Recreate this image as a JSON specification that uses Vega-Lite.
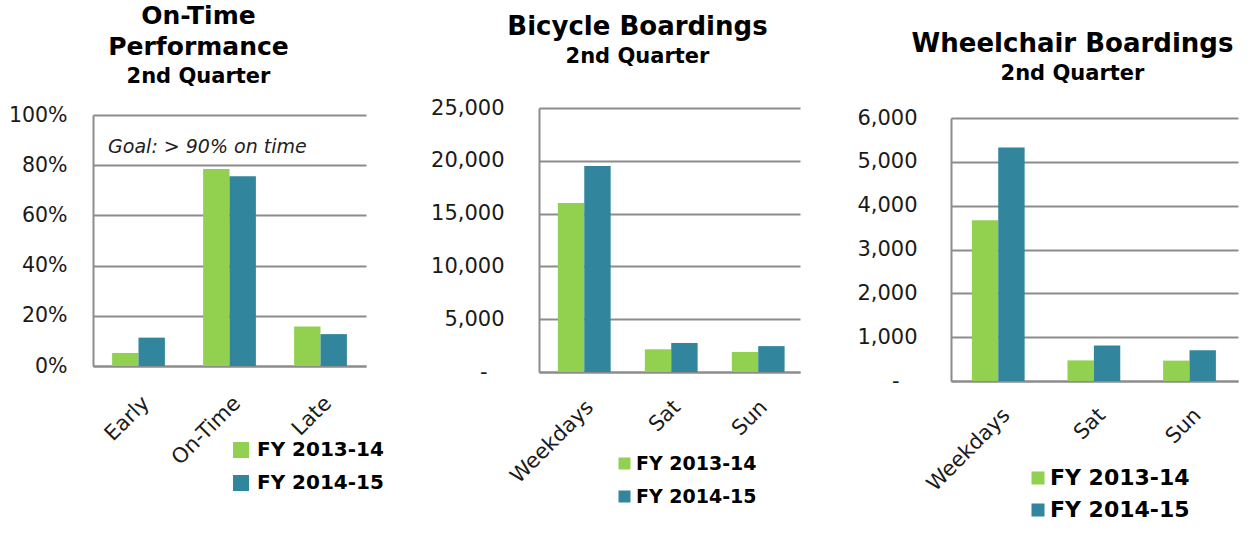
{
  "$schema": "https://vega.github.io/schema/vega-lite/v6.json",
  "padding": {"left": 8, "top": 4, "right": 5, "bottom": 0},
  "background": "white",
  "resolve": {"scale": {"color": "independent"}, "legend": {"color": "independent"}},
  "config": {
    "view": {"stroke": null},
    "font": "DejaVu Sans",
    "title": {"font": "DejaVu Sans", "fontWeight": "bold", "fontSize": 26, "color": "#000000", "lineHeight": 31, "subtitleFont": "DejaVu Sans", "subtitleFontWeight": "bold", "subtitleFontSize": 21, "subtitleColor": "#000000", "subtitlePadding": 6},
    "axis": {"labelFont": "DejaVu Sans", "labelFontSize": 21, "labelColor": "#1a1a1a", "domainColor": "#8c8c8c", "domainWidth": 2, "gridColor": "#8c8c8c", "gridWidth": 2, "ticks": false, "title": null},
    "axisX": {"labelAngle": -45, "labelPadding": 26, "grid": false},
    "axisY": {"domain": true, "grid": true},
    "legend": {"orient": "none", "title": null, "symbolType": "square", "labelFont": "DejaVu Sans", "labelFontWeight": "bold", "labelColor": "#000000", "padding": 0, "symbolStrokeWidth": 0, "symbolOpacity": 1}
  },
  "datasets": {
    "otp": [
      {"category": "Early", "year": "FY 2013-14", "value": 0.052},
      {"category": "Early", "year": "FY 2014-15", "value": 0.113},
      {"category": "On-Time", "year": "FY 2013-14", "value": 0.785},
      {"category": "On-Time", "year": "FY 2014-15", "value": 0.756},
      {"category": "Late", "year": "FY 2013-14", "value": 0.157},
      {"category": "Late", "year": "FY 2014-15", "value": 0.127}
    ],
    "bike": [
      {"category": "Weekdays", "year": "FY 2013-14", "value": 16000},
      {"category": "Weekdays", "year": "FY 2014-15", "value": 19500},
      {"category": "Sat", "year": "FY 2013-14", "value": 2150},
      {"category": "Sat", "year": "FY 2014-15", "value": 2750},
      {"category": "Sun", "year": "FY 2013-14", "value": 1900},
      {"category": "Sun", "year": "FY 2014-15", "value": 2450}
    ],
    "wheel": [
      {"category": "Weekdays", "year": "FY 2013-14", "value": 3670},
      {"category": "Weekdays", "year": "FY 2014-15", "value": 5325},
      {"category": "Sat", "year": "FY 2013-14", "value": 470},
      {"category": "Sat", "year": "FY 2014-15", "value": 810},
      {"category": "Sun", "year": "FY 2013-14", "value": 465},
      {"category": "Sun", "year": "FY 2014-15", "value": 700}
    ]
  },
  "spacing": 46,
  "hconcat": [
    {
      "width": 273,
      "height": 252,
      "title": {"text": ["On-Time", "Performance"], "fontSize": 25, "subtitle": "2nd Quarter", "dx": -31, "offset": 18},
      "layer": [
        {
          "data": {"name": "otp"},
          "mark": {"type": "bar"},
          "encoding": {
            "x": {"field": "category", "type": "nominal", "sort": ["Early", "On-Time", "Late"], "scale": {"paddingInner": 0.42, "paddingOuter": 0.21}, "axis": {"labelPadding": 26}},
            "xOffset": {"field": "year", "type": "nominal"},
            "y": {"field": "value", "type": "quantitative", "scale": {"domain": [0, 1], "range": [252, 1]}, "axis": {"values": [0, 0.2, 0.4, 0.6, 0.8, 1], "format": ".0%", "labelPadding": 26, "labelFontSize": 20.5}},
            "color": {"field": "year", "type": "nominal", "scale": {"domain": ["FY 2013-14", "FY 2014-15"], "range": ["#92D050", "#31859C"]}, "legend": {"legendX": 138, "legendY": 326, "symbolSize": 256, "labelFontSize": 20, "labelOffset": 6, "rowPadding": 13}}
          }
        },
        {
          "data": {"values": [{"note": "Goal: > 90% on time"}]},
          "mark": {"type": "text", "align": "left", "baseline": "middle", "dx": -4, "fontStyle": "italic", "fontSize": 19, "font": "DejaVu Sans", "color": "#222222"},
          "encoding": {
            "text": {"field": "note"},
            "x": {"datum": "Early", "type": "nominal", "bandPosition": 0},
            "y": {"datum": 0.873, "type": "quantitative"}
          }
        }
      ]
    },
    {
      "spacing": 56,
      "resolve": {"scale": {"color": "independent"}, "legend": {"color": "independent"}},
      "hconcat": [
        {
          "width": 261,
          "height": 258,
          "title": {"text": "Bicycle Boardings", "subtitle": "2nd Quarter", "dx": -32, "offset": 30},
          "data": {"name": "bike"},
          "mark": {"type": "bar"},
          "encoding": {
            "x": {"field": "category", "type": "nominal", "sort": ["Weekdays", "Sat", "Sun"], "scale": {"paddingInner": 0.433, "paddingOuter": 0.217}, "axis": {"labelPadding": 24}},
            "xOffset": {"field": "year", "type": "nominal"},
            "y": {"field": "value", "type": "quantitative", "scale": {"domain": [0, 25000], "range": [258, -6]}, "axis": {"values": [0, 5000, 10000, 15000, 20000, 25000], "format": ",.0f", "labelExpr": "datum.value == 0 ? '-' : datum.label", "labelPadding": {"condition": {"test": "datum.value == 0", "value": 52}, "value": 35}}},
            "color": {"field": "year", "type": "nominal", "scale": {"domain": ["FY 2013-14", "FY 2014-15"], "range": ["#92D050", "#31859C"]}, "legend": {"legendX": 76, "legendY": 340, "symbolSize": 144, "labelFontSize": 19, "labelOffset": 2, "rowPadding": 13}}
          }
        },
        {
          "width": 287,
          "height": 267,
          "title": {"text": "Wheelchair Boardings", "subtitle": "2nd Quarter", "dx": -22, "offset": 23},
          "data": {"name": "wheel"},
          "mark": {"type": "bar"},
          "encoding": {
            "x": {"field": "category", "type": "nominal", "sort": ["Weekdays", "Sat", "Sun"], "scale": {"paddingInner": 0.435, "paddingOuter": 0.218}, "axis": {"labelPadding": 23}},
            "xOffset": {"field": "year", "type": "nominal"},
            "y": {"field": "value", "type": "quantitative", "scale": {"domain": [0, 6000], "range": [267, 4]}, "axis": {"values": [0, 1000, 2000, 3000, 4000, 5000, 6000], "format": ",.0f", "labelExpr": "datum.value == 0 ? '-' : datum.label", "labelPadding": {"condition": {"test": "datum.value == 0", "value": 52}, "value": 34}}},
            "color": {"field": "year", "type": "nominal", "scale": {"domain": ["FY 2013-14", "FY 2014-15"], "range": ["#92D050", "#31859C"]}, "legend": {"legendX": 76, "legendY": 353, "symbolSize": 169, "labelFontSize": 22, "labelOffset": 1, "rowPadding": 10}}
          }
        }
      ]
    }
  ]
}
